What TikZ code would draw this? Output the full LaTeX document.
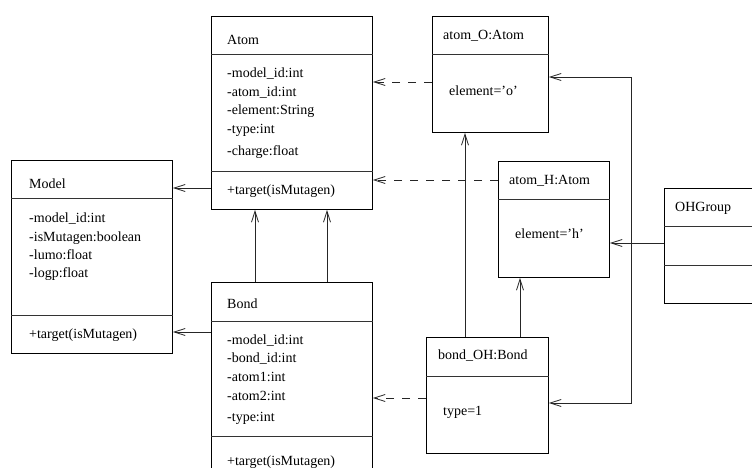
\documentclass[tikz,border=0pt]{standalone}
\usepackage{fontspec}
\setmainfont{Liberation Serif}
\usetikzlibrary{arrows.meta}

\tikzset{
  box/.style={draw=black, line width=0.9pt, rectangle, anchor=north west, inner sep=0pt},
  divider/.style={draw=black!80, line width=0.8pt},
  txt/.style={anchor=base west, inner sep=0pt, font=\fontsize{14}{17}\selectfont},
  assoc/.style={draw=black!85, line width=0.8pt, -{Straight Barb[length=11pt,width=7pt,line width=0.8pt]}},
  depend/.style={assoc, dash pattern=on 8pt off 8pt},
}

\begin{document}
\begin{tikzpicture}[x=1pt,y=-1pt]
\useasboundingbox (0,0) rectangle (752,468);
\clip (0,0) rectangle (752,468);

% ---- class Model ----
\node[box, minimum width=161pt, minimum height=193pt] (model) at (11,160) {};
\draw[divider] (model.west |- 0,198) -- (model.east |- 0,198);
\draw[divider] (model.west |- 0,315) -- (model.east |- 0,315);
\node[txt] (modelT) at (29,188) {Model};
\node[txt] (modelA1) at (29,222) {-model\_id:int};
\node[txt] (modelA2) at (29,241) {-isMutagen:boolean};
\node[txt] (modelA3) at (29,259) {-lumo:float};
\node[txt] (modelA4) at (29,277) {-logp:float};
\node[txt] (modelM) at (29,338) {+target(isMutagen)};

% ---- class Atom ----
\node[box, minimum width=161pt, minimum height=193pt] (atom) at (211,16) {};
\draw[divider] (atom.west |- 0,54) -- (atom.east |- 0,54);
\draw[divider] (atom.west |- 0,171) -- (atom.east |- 0,171);
\node[txt] (atomT) at (227,45) {Atom};
\node[txt] (atomA1) at (227,78) {-model\_id:int};
\node[txt] (atomA2) at (227,97) {-atom\_id:int};
\node[txt] (atomA3) at (227,115) {-element:String};
\node[txt] (atomA4) at (227,134) {-type:int};
\node[txt] (atomA5) at (227,155) {-charge:float};
\node[txt] (atomM) at (227,194) {+target(isMutagen)};

% ---- class Bond ----
\node[box, minimum width=161pt, minimum height=220pt] (bond) at (211,282) {};
\draw[divider] (bond.west |- 0,321) -- (bond.east |- 0,321);
\draw[divider] (bond.west |- 0,436) -- (bond.east |- 0,436);
\node[txt] (bondT) at (227,308) {Bond};
\node[txt] (bondA1) at (227,344) {-model\_id:int};
\node[txt] (bondA2) at (227,362) {-bond\_id:int};
\node[txt] (bondA3) at (227,381) {-atom1:int};
\node[txt] (bondA4) at (227,400) {-atom2:int};
\node[txt] (bondA5) at (227,421) {-type:int};
\node[txt] (bondM) at (227,465) {+target(isMutagen)};

% ---- object atom_O ----
\node[box, minimum width=116pt, minimum height=116pt] (atomO) at (432,16) {};
\draw[divider] (atomO.west |- 0,54) -- (atomO.east |- 0,54);
\node[txt] (atomOT) at (443,40) {atom\_O:Atom};
\node[txt] (atomOV) at (449,96) {element=’o’};

% ---- object atom_H ----
\node[box, minimum width=111pt, minimum height=116pt] (atomH) at (498,161) {};
\draw[divider] (atomH.west |- 0,199) -- (atomH.east |- 0,199);
\node[txt] (atomHT) at (509,184) {atom\_H:Atom};
\node[txt] (atomHV) at (515,238) {element=’h’};

% ---- class OHGroup ----
\node[box, minimum width=140pt, minimum height=115pt] (ohgroup) at (664,188) {};
\draw[divider] (ohgroup.west |- 0,226) -- (ohgroup.east |- 0,226);
\draw[divider] (ohgroup.west |- 0,265) -- (ohgroup.east |- 0,265);
\node[txt] (ohgroupT) at (675,211) {OHGroup};

% ---- object bond_OH ----
\node[box, minimum width=122pt, minimum height=116pt] (bondOH) at (426,337) {};
\draw[divider] (bondOH.west |- 0,376) -- (bondOH.east |- 0,376);
\node[txt] (bondOHT) at (438,359) {bond\_OH:Bond};
\node[txt] (bondOHV) at (443,415) {type=1};

% ---- associations ----
\draw[assoc] (atom.west |- 0,188) -- (model.east |- 0,188);
\draw[assoc] (bond.west |- 0,332) -- (model.east |- 0,332);
\draw[assoc] (bond.north -| 255,0) -- (atom.south -| 255,0);
\draw[assoc] (bond.north -| 327,0) -- (atom.south -| 327,0);
\draw[assoc] (bondOH.north -| 465,0) -- (atomO.south -| 465,0);
\draw[assoc] (bondOH.north -| 520,0) -- (atomH.south -| 520,0);
\draw[assoc] (ohgroup.west |- 0,243) -- (atomH.east |- 0,243);
\coordinate (bend) at (631,403);
\draw[assoc, {Straight Barb[length=11pt,width=7pt,line width=0.8pt]}-{Straight Barb[length=11pt,width=7pt,line width=0.8pt]}]
  (atomO.east |- 0,77) -| (bend) -- (bondOH.east |- bend);

% ---- instance-of dependencies ----
\draw[depend] (atomO.west |- 0,82) -- (atom.east |- 0,82);
\draw[depend] (atomH.west |- 0,180) -- (atom.east |- 0,180);
\draw[depend] (bondOH.west |- 0,398) -- (bond.east |- 0,398);
\end{tikzpicture}
\end{document}
